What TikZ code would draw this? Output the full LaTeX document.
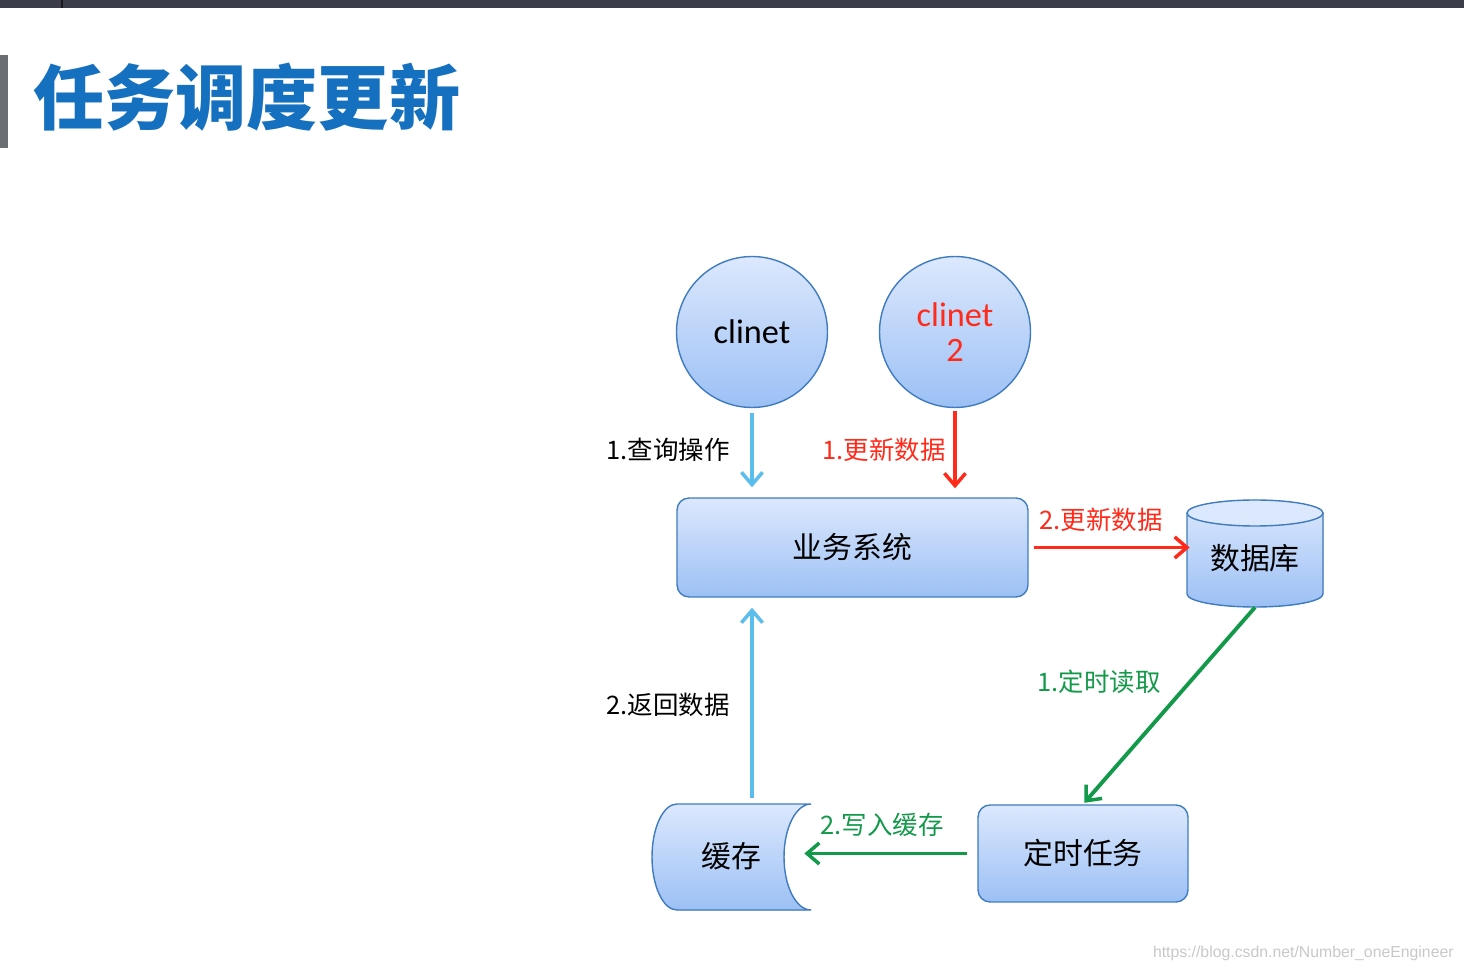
\documentclass[tikz,border=0pt]{standalone}
\usepackage{fontspec}
\setmainfont{Noto Sans CJK SC}
\newfontfamily\lat{Carlito}
\newfontfamily\wm{Liberation Sans}
\usetikzlibrary{arrows.meta,calc}
\definecolor{topbar}{HTML}{3B3E48}
\definecolor{sidebar}{HTML}{6B6E73}
\definecolor{titleblue}{HTML}{1570BF}
\definecolor{shtop}{HTML}{DCE8FD}
\definecolor{shbot}{HTML}{9CC0F5}
\definecolor{edge}{HTML}{3F7CBF}
\definecolor{lblue}{HTML}{5BBDEC}
\definecolor{lred}{HTML}{FF2A1A}
\definecolor{lgreen}{HTML}{13994A}
\definecolor{wmgray}{HTML}{C8C8C8}
\tikzset{
  shade box/.style={top color=shtop, bottom color=shbot, draw=edge, line width=0.8pt},
  roundbox/.style={shade box, rectangle, rounded corners=0.24cm, font=\fontsize{17}{20}\selectfont},
  clientnode/.style={shade box, circle, minimum size=3.02cm, inner sep=0pt, font=\lat\fontsize{19.5}{20.5}\selectfont, align=center},
  plainnode/.style={rectangle, draw=none, inner sep=0pt, font=\fontsize{17}{20}\selectfont},
  lbl/.style={font=\fontsize{14.5}{16}\selectfont},
  conn/.style={line width=2.2pt, -{Straight Barb[length=7pt,width=12pt,line width=2pt]}},
}
\begin{document}
\begin{tikzpicture}[x=0.02cm,y=0.02cm]
\useasboundingbox (0,0) rectangle (1464,-972);
% top dark bar
\fill[topbar] (0,0) rectangle (1464,-8);
\draw[black!60!topbar, line width=1pt] (62,0) -- (62,-8);
% title
\fill[sidebar] (0,-55) rectangle (8,-148);
\node[anchor=west, inner sep=0pt, text=titleblue, font=\bfseries\fontsize{40.5}{44}\selectfont] (title) at (33,-97) {任务调度更新};

% nodes
\node[clientnode] (c1) at (752,-332) {clinet};
\node[clientnode, text=lred] (c2) at (955,-332) {clinet\\[-1pt]2};
\node[roundbox, minimum width=7.02cm, minimum height=1.98cm] (sys) at (852.5,-547.5) {业务系统};
\node[roundbox, minimum width=4.2cm, minimum height=1.94cm] (timer) at (1083,-853.5) {定时任务};

% database cylinder
\fill[top color=shtop, bottom color=shbot] (1187,-513) -- (1187,-594) arc (180:360:68 and 13) -- (1323,-513) arc (0:180:68 and 13) -- cycle;
\draw[edge, line width=0.8pt] (1187,-513) -- (1187,-594) arc (180:360:68 and 13) -- (1323,-513);
\draw[edge, line width=0.8pt, fill=shtop] (1255,-513) ellipse (68 and 13);
\node[plainnode, minimum width=2.72cm, minimum height=2.14cm] (db) at (1255,-553.5) {};
\node[plainnode] (dbtext) at (1255,-558) {数据库};

% cache (stored data shape)
\fill[top color=shtop, bottom color=shbot] (677,-804) -- (811,-804) arc (90:270:27 and 53) -- (677,-910) arc (270:90:25 and 53) -- cycle;
\draw[edge, line width=0.8pt] (677,-804) -- (811,-804) arc (90:270:27 and 53) -- (677,-910) arc (270:90:25 and 53) -- cycle;
\node[plainnode, minimum width=3.18cm, minimum height=2.12cm] (cache) at (731.5,-857) {};
\node[plainnode] (cachetext) at (731,-856) {缓存};

% connectors
\draw[conn, lblue, shorten <=5*0.02cm, shorten >=10*0.02cm] (c1.south) -- (c1.south |- sys.north);
\draw[conn, lred, shorten <=3*0.02cm, shorten >=9*0.02cm] (c2.south) -- (c2.south |- sys.north);
\draw[conn, lred, shorten <=5*0.02cm, shorten >=-3*0.02cm] (sys.east) -- (sys.east -| db.west);
\draw[conn, lgreen, shorten <=0*0.02cm, shorten >=2*0.02cm] (db.south) -- (timer.north);
\draw[conn, lgreen, shorten <=10*0.02cm, shorten >=-7*0.02cm] (timer.west) -- (timer.west -| cache.east);
\draw[conn, lblue, shorten <=6*0.02cm, shorten >=10*0.02cm] (cache.north -| c1.south) -- (sys.south -| c1.south);

% labels
\node[lbl] (l1) at (668,-450) {1.查询操作};
\node[lbl, text=lred] (l2) at (884,-450) {1.更新数据};
\node[lbl, text=lred] (l3) at (1101,-520) {2.更新数据};
\node[lbl, text=lgreen] (l4) at (1099,-682) {1.定时读取};
\node[lbl, text=lgreen] (l5) at (882,-825) {2.写入缓存};
\node[lbl] (l6) at (668,-705) {2.返回数据};

% watermark
\node[anchor=east, text=wmgray, font=\wm\fontsize{9}{10}\selectfont, inner sep=0pt] (wmark) at (1454,-953) {https://blog.csdn.net/Number\_oneEngineer};
\end{tikzpicture}
\end{document}
